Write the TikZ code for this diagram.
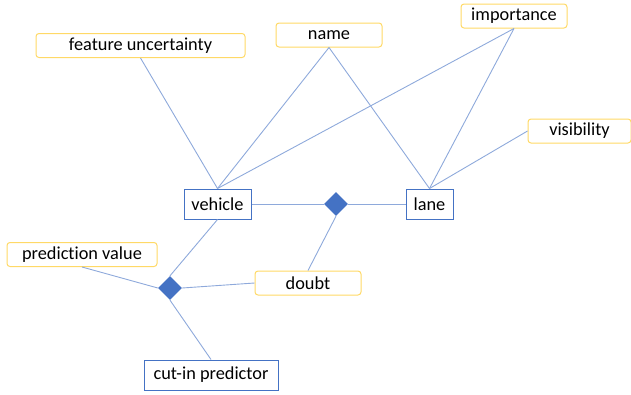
\documentclass[tikz,border=0pt]{standalone}
\usepackage{fontspec}
\setmainfont[Ligatures=NoCommon]{Carlito}
\usetikzlibrary{shapes.geometric}

\definecolor{entblue}{HTML}{4472C4}
\definecolor{linkblue}{HTML}{8EA9DB}
\definecolor{attrgold}{HTML}{FFD966}

\begin{document}
\begin{tikzpicture}[x=1pt, y=-1pt,
    every node/.style={font=\fontsize{18.3}{21}\selectfont, inner sep=0pt},
    attr/.style={draw=attrgold, line width=1pt, rounded corners=3pt, minimum height=24pt},
    entity/.style={draw=entblue, line width=1pt, minimum height=30pt},
    rel/.style={diamond, fill=entblue, minimum size=24pt},
    link/.style={draw=linkblue, line width=0.9pt}]
        \useasboundingbox (0, 0) rectangle (631, 394);

        \node[attr, minimum width=209pt] at (140.5, 45.5)  (fu)      {feature uncertainty};
        \node[attr, minimum width=106pt] at (329, 35)      (name)    {name};
        \node[attr, minimum width=106pt] at (514, 16)      (imp)     {importance};
        \node[attr, minimum width=103pt] at (579.5, 131)   (vis)     {visibility};
        \node[entity, minimum width=67pt] at (217.5, 204)  (vehicle) {vehicle};
        \node[entity, minimum width=47pt] at (429.5, 204)  (lane)    {lane};
        \node[rel] at (336, 204)                           (r1)      {};
        \node[attr, minimum width=150pt] at (82, 254.5)    (pv)      {prediction value};
        \node[rel] at (170, 288)                           (r2)      {};
        \node[attr, minimum width=106pt] at (308, 283)     (doubt)   {doubt};
        \node[entity, minimum width=134pt] at (211, 375)   (cut)     {cut-in predictor};

        \draw[link] (fu.south) -- (vehicle.north);
        \draw[link] (name.south) -- (vehicle.north);
        \draw[link] (name.south) -- (lane.north);
        \draw[link] (imp.south) -- (vehicle.north);
        \draw[link] (imp.south) -- (lane.north);
        \draw[link] (vis.west) -- (lane.north);
        \draw[link] (vehicle.east) -- (r1.west);
        \draw[link] (r1.east) -- (lane.west);
        \draw[link] (r1.south) -- (doubt.north);
        \draw[link] (vehicle.south) -- (r2.north);
        \draw[link] (pv.south) -- (r2.west);
        \draw[link] (r2.east) -- (doubt.west);
        \draw[link] (r2.south) -- (cut.north);
    \end{tikzpicture}
\end{document}
